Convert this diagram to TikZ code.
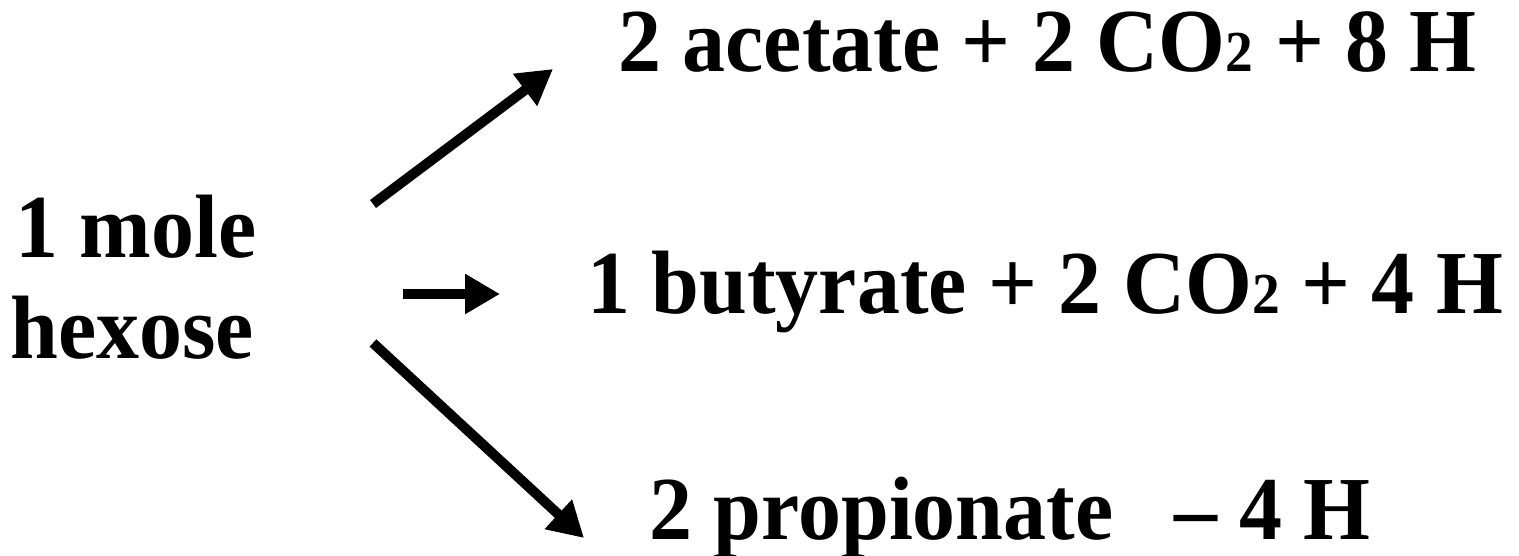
\documentclass[tikz,border=0pt]{standalone}
\usepackage{fontspec}
\setmainfont{Liberation Serif}[FakeStretch=0.955]
\usetikzlibrary{arrows.meta}

\newcommand{\subtwo}{{\fontsize{29}{30}\selectfont 2}}

\tikzset{
  chem/.style={font=\fontsize{45}{50}\selectfont\bfseries, inner sep=0pt, anchor=base west},
  react/.style={line width=5pt, -{Triangle[length=17.5pt,width=19pt]}}
}

\begin{document}
\begin{tikzpicture}[x=0.5pt, y=-0.5pt]
\useasboundingbox (0,0) rectangle (1519,556);

% -- substrate ---------------------------------------------------------------
\node[chem] (mole)   at (15,257) {1 mole};
\node[chem] (hexose) at (10,358) {hexose};

% -- products ----------------------------------------------------------------
\node[chem] (acetate)    at (618,72)  {2 acetate + 2 CO\subtwo{} + 8 H};
\node[chem] (butyrate)   at (587,313) {1 butyrate + 2 CO\subtwo{} + 4 H};
\node[chem] (propionate) at (649,539) {2 propionate\hspace{0.68em}-- 4 H};

% -- arrow ends --------------------------------------------------------------
\coordinate (s1) at (373,204);
\coordinate (e1) at (553,69);
\coordinate (s2) at (403,294);
\coordinate (e2) at (500,294);
\coordinate (s3) at (373,343);
\coordinate (e3) at (584,538);

\draw[react] (s1) -- (e1);
\draw[react] (s2) -- (e2);
\draw[react] (s3) -- (e3);

\end{tikzpicture}
\end{document}
